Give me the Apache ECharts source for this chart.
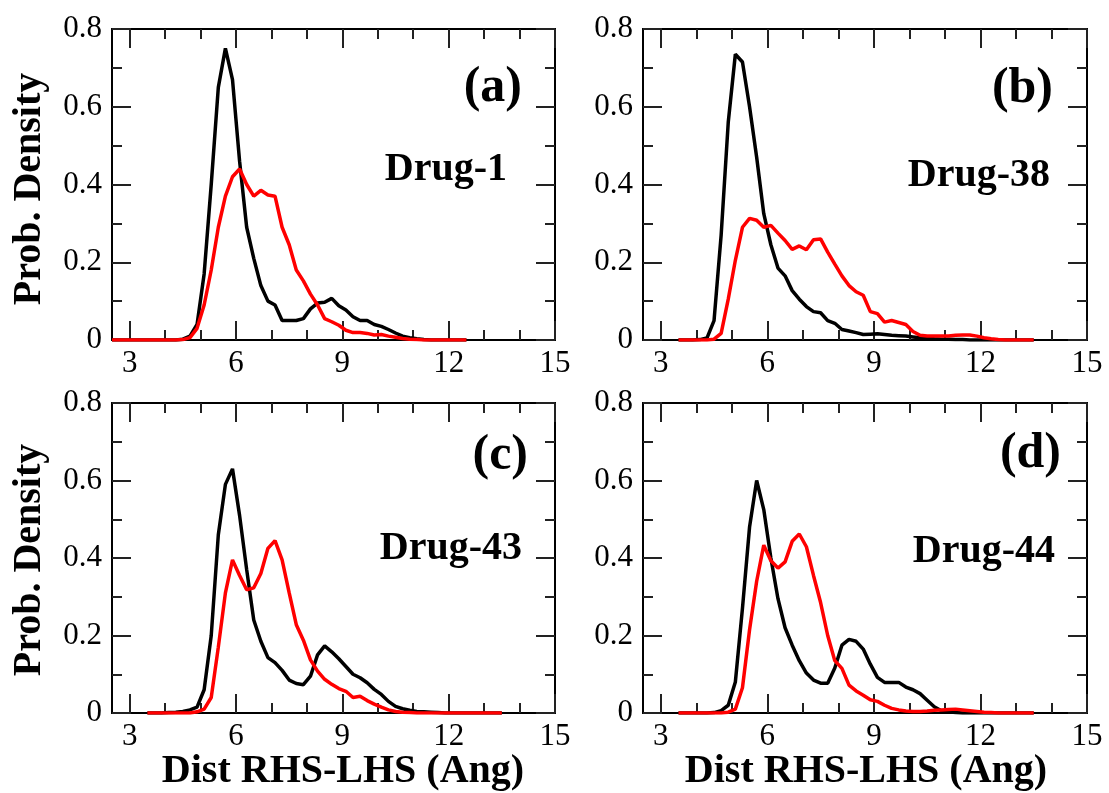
<!DOCTYPE html>
<html>
<head>
<meta charset="utf-8">
<script src="https://cdn.jsdelivr.net/npm/echarts@6/dist/echarts.min.js"></script>
<style>
  html, body { margin: 0; padding: 0; background: #fff; }
  #chart { width: 1109px; height: 793px; }
</style>
</head>
<body>
<div id="chart"></div>
<script>
// bin grid: 51 bins, 0.2 Ang wide
const binStartA = 2.5;
const binStartOther = 3.5;
const binStep = 0.2;

// (a) Drug-1
const drug1Black = [0,0,0,0,0,0,0,0,0,0,
  0.002,0.01,0.04,0.17,0.40,0.65,0.75,0.67,0.46,0.29,0.21,0.14,0.10,0.09,0.05,0.05,0.05,0.055,0.08,0.095,
  0.097,0.107,0.088,0.077,0.06,0.05,0.05,0.04,0.035,0.027,0.018,0.01,0.006,0.003,0.001,
  0,0,0,0,0,0];
const drug1Red = [0,0,0,0,0,0,0,0,0,0,
  0.001,0.006,0.03,0.09,0.18,0.29,0.37,0.42,0.44,0.40,0.37,0.385,0.373,0.37,0.29,0.245,0.18,0.152,0.118,0.09,
  0.055,0.047,0.038,0.025,0.019,0.019,0.017,0.013,0.014,0.01,0.007,0.004,0.002,0.001,
  0,0,0,0,0,0,0];

// (b) Drug-38
const drug38Black = [0,0,0,0.001,0.005,0.05,0.27,0.56,0.735,0.715,0.6,0.47,0.325,0.245,0.185,0.165,0.127,0.105,0.086,0.073,
  0.07,0.05,0.043,0.027,0.023,0.019,0.014,0.015,0.016,0.014,0.012,0.011,0.01,0.008,0.006,0.005,0.003,0.002,0.002,0.001,
  0.001,0,0,0,0,0,0,0,0,0,0];
const drug38Red = [0,0,0,0,0,0.002,0.017,0.105,0.205,0.29,0.313,0.308,0.29,0.295,0.275,0.256,0.233,0.242,0.232,0.258,
  0.26,0.226,0.195,0.165,0.14,0.124,0.115,0.073,0.068,0.046,0.05,0.045,0.04,0.022,0.012,0.01,0.01,0.01,0.01,0.012,
  0.013,0.013,0.01,0.006,0.003,0.001,0,0,0,0,0];

// (c) Drug-43
const drug43Black = [0,0,0,0.001,0.002,0.004,0.008,0.015,0.06,0.2,0.46,0.59,0.63,0.51,0.37,0.24,0.185,0.143,0.13,0.11,
  0.085,0.076,0.073,0.095,0.15,0.173,0.158,0.14,0.12,0.1,0.091,0.078,0.061,0.048,0.03,0.017,0.011,0.007,0.004,0.003,
  0.002,0.001,0,0,0,0,0,0,0,0,0];
const drug43Red = [0,0,0,0,0,0,0,0.003,0.01,0.04,0.17,0.31,0.395,0.355,0.318,0.323,0.36,0.425,0.445,0.395,
  0.31,0.228,0.188,0.137,0.108,0.087,0.074,0.063,0.056,0.04,0.043,0.032,0.023,0.015,0.008,0.004,0.002,0.001,
  0,0,0,0,0,0,0,0,0,0,0,0,0];

// (d) Drug-44
const drug44Black = [0,0,0,0,0,0.001,0.006,0.02,0.08,0.27,0.48,0.6,0.525,0.4,0.295,0.22,0.175,0.135,0.103,0.085,
  0.077,0.077,0.116,0.175,0.19,0.185,0.165,0.126,0.092,0.079,0.079,0.079,0.067,0.06,0.05,0.033,0.016,0.006,0.003,0.001,
  0,0,0,0,0,0,0,0,0,0,0];
const drug44Red = [0,0,0,0,0,0,0,0.002,0.01,0.065,0.215,0.34,0.433,0.393,0.374,0.39,0.443,0.462,0.429,0.355,
  0.285,0.2,0.135,0.115,0.072,0.057,0.046,0.034,0.03,0.02,0.012,0.008,0.005,0.004,0.004,0.005,0.007,0.008,0.009,0.01,
  0.008,0.006,0.004,0.002,0.001,0,0,0,0,0,0];

const xMajorTicks = [3, 6, 9, 12, 15];
const xMinorTicks = [4, 5, 7, 8, 10, 11, 13, 14];
const panelLetters = ['(a)', '(b)', '(c)', '(d)'];
const drugNames = ['Drug-1', 'Drug-38', 'Drug-43', 'Drug-44'];

const panels = [
  {start: binStartA, black: drug1Black, red: drug1Red, left: 112, top: 29, width: 443, height: 311},
  {start: binStartOther, black: drug38Black, red: drug38Red, left: 643, top: 29, width: 444, height: 311},
  {start: binStartOther, black: drug43Black, red: drug43Red, left: 112, top: 403, width: 443, height: 310},
  {start: binStartOther, black: drug44Black, red: drug44Red, left: 643, top: 403, width: 444, height: 310}
];

const serif = "'Liberation Serif', 'Times New Roman', serif";
const tickStyle = {color: '#222', width: 2};
const toPairs = (start, ys) => ys.map((v, i) => [+(start + i * binStep).toFixed(1), v]);

const grids = [], xAxes = [], yAxes = [], series = [];
panels.forEach((p, g) => {
  grids.push({left: p.left, top: p.top, width: p.width, height: p.height, containLabel: false});

  // x: bottom/top, major and minor ticks on separate axes
  const xBase = {
    gridIndex: g, type: 'value', min: 2.5, max: 15,
    axisLine: {show: true, onZero: false, lineStyle: {color: '#000', width: 2}},
    splitLine: {show: false}
  };
  const xMain = xAxes.length;
  xAxes.push(Object.assign({}, xBase, {
    position: 'bottom',
    axisTick: {show: true, inside: true, length: 19, customValues: xMajorTicks, lineStyle: tickStyle},
    axisLabel: {show: true, customValues: xMajorTicks, fontFamily: serif, fontSize: 31, color: '#000', margin: 8}
  }));
  xAxes.push(Object.assign({}, xBase, {
    position: 'bottom',
    axisTick: {show: true, inside: true, length: 10, customValues: xMinorTicks, lineStyle: tickStyle},
    axisLabel: {show: false}
  }));
  xAxes.push(Object.assign({}, xBase, {
    position: 'top',
    axisTick: {show: true, inside: true, length: 19, customValues: xMajorTicks, lineStyle: tickStyle},
    axisLabel: {show: false}
  }));
  xAxes.push(Object.assign({}, xBase, {
    position: 'top',
    axisTick: {show: true, inside: true, length: 10, customValues: xMinorTicks, lineStyle: tickStyle},
    axisLabel: {show: false}
  }));

  // y: left with labels, right mirror
  const yBase = {
    gridIndex: g, type: 'value', min: 0, max: 0.8, interval: 0.2,
    axisLine: {show: true, onZero: false, lineStyle: {color: '#000', width: 2}},
    axisTick: {show: true, inside: true, length: 19, lineStyle: tickStyle},
    minorTick: {show: true, splitNumber: 2, length: 10, lineStyle: tickStyle},
    splitLine: {show: false},
    minorSplitLine: {show: false}
  };
  const yMain = yAxes.length;
  yAxes.push(Object.assign({}, yBase, {
    position: 'left',
    axisLabel: {
      show: true, fontFamily: serif, fontSize: 31, color: '#000', margin: 10,
      formatter: v => (v === 0 ? '0' : v.toFixed(1))
    }
  }));
  yAxes.push(Object.assign({}, yBase, {position: 'right', axisLabel: {show: false}}));

  series.push({
    type: 'line', xAxisIndex: xMain, yAxisIndex: yMain, data: toPairs(p.start, p.black),
    showSymbol: false, symbol: 'none', lineStyle: {color: '#000', width: 3.5}
  });
  series.push({
    type: 'line', xAxisIndex: xMain, yAxisIndex: yMain, data: toPairs(p.start, p.red),
    showSymbol: false, symbol: 'none', lineStyle: {color: '#ff0000', width: 3.5}
  });
});

const boldText = (text, x, y, size) => ({
  type: 'text', x: x, y: y, z: 10,
  style: {text: text, font: 'bold ' + size + 'px ' + serif, fill: '#000', textAlign: 'right', textVerticalAlign: 'middle'}
});
const titleText = (text, x, y, rotation) => ({
  type: 'text', x: x, y: y, rotation: rotation, z: 10,
  style: {text: text, font: 'bold 40px ' + serif, fill: '#000', textAlign: 'center', textVerticalAlign: 'middle'}
});

const graphics = [
  boldText(panelLetters[0], 522, 88, 50),
  boldText(panelLetters[1], 1053, 89, 50),
  boldText(panelLetters[2], 528, 456, 50),
  boldText(panelLetters[3], 1061, 454, 50),
  boldText(drugNames[0], 507, 170, 40),
  boldText(drugNames[1], 1050, 176, 40),
  boldText(drugNames[2], 522, 549, 40),
  boldText(drugNames[3], 1055, 552, 40),
  titleText('Prob. Density', 30, 189, Math.PI / 2),
  titleText('Prob. Density', 30, 560, Math.PI / 2),
  titleText('Dist RHS-LHS (Ang)', 343, 772, 0),
  titleText('Dist RHS-LHS (Ang)', 866, 772, 0)
];

const chart = echarts.init(document.getElementById('chart'));
chart.setOption({
  animation: false,
  backgroundColor: '#fff',
  grid: grids,
  xAxis: xAxes,
  yAxis: yAxes,
  series: series,
  graphic: graphics
});
</script>
</body>
</html>
